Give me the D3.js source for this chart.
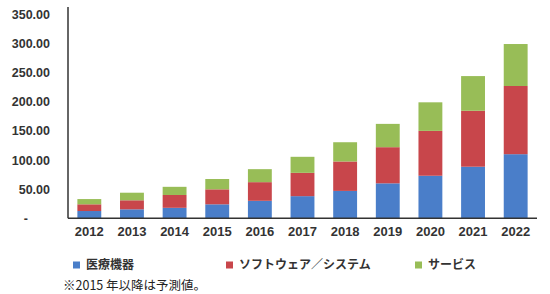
<!DOCTYPE html>
<html>
<head>
<meta charset="utf-8">
<script src="https://cdn.jsdelivr.net/npm/d3@7"></script>
<style>
  body { margin: 0; background: #fff; }
  svg text { font-family: "Liberation Sans", Arial, sans-serif; }
  .jp { font-family: "Noto Sans CJK JP", sans-serif; }
</style>
</head>
<body>
<div id="chart"></div>
<script>
// data
var years    = ['2012','2013','2014','2015','2016','2017','2018','2019','2020','2021','2022'];
var medical  = [12.5, 15.4, 18, 24, 30, 38, 47, 60, 73, 88.5, 110];
var software = [11.5, 15.5, 22, 25.7, 32, 40, 50.5, 62, 77, 96, 117];
var service  = [9, 13, 14, 17.7, 22.3, 27.5, 33, 40, 49, 59.5, 72];
var yTicks   = [0, 50, 100, 150, 200, 250, 300, 350];
var seriesNames = ['医療機器', 'ソフトウェア／システム', 'サービス'];
var note = '※2015 年以降は予測値。';

var width = 550, height = 294;
var margin = {top: 14, left: 68, right: 13, bottom: 76};

var svg = d3.select('#chart').append('svg')
    .attr('width', width)
    .attr('height', height);

var rows = years.map(function(y, i) {
    return {year: y, medical: medical[i], software: software[i], service: service[i]};
});
var keys = ['medical', 'software', 'service'];
var colors = {medical: '#4a7ec9', software: '#c8464b', service: '#98bd57'};

var series = d3.stack().keys(keys)(rows);

var x = d3.scaleBand()
    .domain(years)
    .range([margin.left, width - margin.right])
    .paddingInner(0.44)
    .paddingOuter(0.22);

var y = d3.scaleLinear()
    .domain([0, 350])
    .range([218.3, 14.3]);

// bars
svg.append('g')
    .selectAll('g')
    .data(series)
    .enter().append('g')
    .attr('fill', function(d) { return colors[d.key]; })
    .selectAll('rect')
    .data(function(d) { return d; })
    .enter().append('rect')
    .attr('x', function(d) { return x(d.data.year); })
    .attr('width', x.bandwidth())
    .attr('y', function(d) { return y(d[1]); })
    .attr('height', function(d) { return y(d[0]) - y(d[1]); });

// y axis
var yAxis = svg.append('g')
    .attr('transform', 'translate(' + margin.left + ',0)')
    .call(d3.axisLeft(y).tickValues(yTicks).tickSize(0).tickPadding(18)
        .tickFormat(function(d) { return d === 0 ? '-' : d3.format('.2f')(d); }));
yAxis.select('.domain').remove();
yAxis.selectAll('text')
    .attr('fill', '#333')
    .attr('font-size', '12.5px')
    .attr('font-weight', 'bold')
    .attr('font-family', '"Liberation Sans", Arial, sans-serif');
yAxis.selectAll('text').filter(function(d) { return d === 0; })
    .attr('dx', -22);

svg.append('line')
    .attr('x1', margin.left).attr('x2', margin.left)
    .attr('y1', 7).attr('y2', y(0))
    .attr('stroke', '#333').attr('stroke-width', 1.5);

// x axis
var xAxis = svg.append('g')
    .attr('transform', 'translate(0,' + y(0) + ')')
    .call(d3.axisBottom(x).tickSize(0).tickPadding(8));
xAxis.select('.domain').remove();
xAxis.selectAll('text')
    .attr('fill', '#333')
    .attr('font-size', '13px')
    .attr('font-weight', 'bold')
    .attr('font-family', '"Liberation Sans", Arial, sans-serif');

svg.append('line')
    .attr('x1', margin.left).attr('x2', 537)
    .attr('y1', y(0)).attr('y2', y(0))
    .attr('stroke', '#333').attr('stroke-width', 1.5);

// legend
var legendX = [73, 226, 415];
var legend = svg.append('g').selectAll('g')
    .data(keys)
    .enter().append('g')
    .attr('transform', function(d, i) { return 'translate(' + legendX[i] + ',265)'; });
legend.append('rect')
    .attr('x', 0).attr('y', -3.5)
    .attr('width', 7).attr('height', 7)
    .attr('fill', function(d) { return colors[d]; });
legend.append('text')
    .attr('class', 'jp')
    .attr('x', 13).attr('dy', '0.35em')
    .attr('font-size', '12px')
    .attr('font-weight', 'bold')
    .attr('fill', '#333')
    .text(function(d, i) { return seriesNames[i]; });

// footnote
svg.append('text')
    .attr('class', 'jp')
    .attr('x', 63).attr('y', 285.5).attr('dy', '0.35em')
    .attr('font-size', '12.5px')
    .attr('fill', '#222')
    .text(note);
</script>
</body>
</html>
